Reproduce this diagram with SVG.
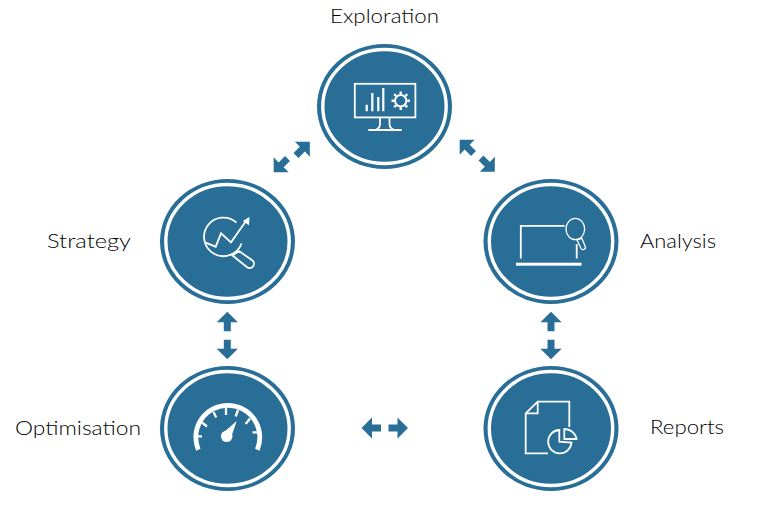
<svg xmlns="http://www.w3.org/2000/svg" width="770" height="525" viewBox="0 0 770 525">
<style>
.disc{fill:#296e97}
.ring{fill:none;stroke:#fff;stroke-width:3.4}
.ln{fill:none;stroke:#fff;stroke-width:1.8;stroke-linejoin:miter}
.th{fill:none;stroke:#fff;stroke-width:1.3}
.wf{fill:#fff}
.arr{fill:#296e97}
.lbl{font-family:"Lato","Inter","Liberation Sans",sans-serif;font-size:20.5px;font-weight:300;fill:#000}
</style>
<defs>
<g id="badge"><ellipse class="disc" rx="67.5" ry="62.5"/><ellipse class="ring" rx="61.7" ry="57"/></g>
<path id="ar" class="arr" d="M0,-3.5H9V-10.6L19.5,0L9,10.6V3.5H0Z"/>
</defs>
<g id="connectors">
<use href="#ar" transform="translate(296,155.5) rotate(-45)"/>
<use href="#ar" transform="translate(287.5,158.5) rotate(135)"/>
<use href="#ar" transform="translate(473.5,153.5) rotate(-135)"/>
<use href="#ar" transform="translate(481,158) rotate(45)"/>
<use href="#ar" transform="translate(227.3,331.2) rotate(-90)"/>
<use href="#ar" transform="translate(227.3,339.8) rotate(90)"/>
<use href="#ar" transform="translate(551,331.2) rotate(-90)"/>
<use href="#ar" transform="translate(551,339.8) rotate(90)"/>
<use href="#ar" transform="translate(381,428) rotate(180)"/>
<use href="#ar" transform="translate(388.5,428)"/>
</g>
<g id="node-exploration">
<use href="#badge" transform="translate(384.5,106.5)"/>
<rect class="ln" x="354.8" y="83.8" width="60.6" height="33.6"/>
<path class="ln" d="M380,118V124Q380,128 376,129.5M389.5,118V124Q389.5,128 393.5,129.5M368.3,130H401.7"/>
<path class="wf" d="M365.6,104.7h2.2v6.6h-2.2zM371.2,93h2.2v18.3h-2.2zM377.2,97h2.2v14.3h-2.2zM382.2,88h2.2v23.3h-2.2z"/>
<circle class="ln" cx="400.7" cy="100.7" r="5.7" style="stroke-width:2"/>
<path class="ln" style="stroke-width:2.4" d="M400.7,91.5v2.6M400.7,107.3v2.6M391.5,100.7h2.6M407.3,100.7h2.6M394.2,94.2l1.8,1.8M405.4,105.4l1.8,1.8M407.2,94.2l-1.8,1.8M396,105.4l-1.8,1.8"/>
<text class="lbl" x="330" y="23" textLength="109" lengthAdjust="spacingAndGlyphs">Exploration</text>
</g>
<g id="node-strategy">
<use href="#badge" transform="translate(227.5,241.5)"/>
<path class="ln" d="M236.5,222.7A19.3,19.3 0 1 0 241.5,243.5"/>
<path class="ln" d="M205,242.3L215.7,246.7L221,233.3L231,242.3L246.7,220"/>
<path class="wf" d="M249.5,217L249,225.3L242.8,221Z"/>
<path class="ln" d="M232.5,255.5L239,251L252.5,260.5A4,4 0 0 1 246.8,267Z"/>
<text class="lbl" x="47" y="248" textLength="84" lengthAdjust="spacingAndGlyphs">Strategy</text>
</g>
<g id="node-analysis">
<use href="#badge" transform="translate(551,241.5)"/>
<path class="ln" d="M520.8,258.5V225.8H564.5M576.7,244V258.5"/>
<rect class="wf" x="516" y="262.7" width="65.5" height="3"/>
<ellipse class="th" cx="575.3" cy="229" rx="9.3" ry="10.7"/>
<path class="th" d="M577,240L582,238.5L585,246A2.2,2.2 0 0 1 581,248.5Z"/>
<text class="lbl" x="640" y="248" textLength="76" lengthAdjust="spacingAndGlyphs">Analysis</text>
</g>
<g id="node-optimisation">
<use href="#badge" transform="translate(227.5,428.5)"/>
<path fill="none" stroke="#fff" stroke-width="4.8" d="M198.3,449.7A32,32 0 1 1 257.3,449.7"/>
<path fill="none" stroke="#fff" stroke-width="2.3" d="M197,436.3H202M202,422.5L207,426.5M213.5,412L216.2,417.5M226,408V415M238,410L235.7,416.5M250,418.5L245.7,424M258.3,432.3H252.5"/>
<circle class="wf" cx="226.7" cy="436.3" r="5.8"/>
<path class="wf" d="M223.5,432.5L236.7,421L231.2,437Z"/>
<text class="lbl" x="15" y="435" textLength="126" lengthAdjust="spacingAndGlyphs">Optimisation</text>
</g>
<g id="node-reports">
<use href="#badge" transform="translate(551,428.5)"/>
<path class="ln" d="M569.3,427V401.7H537.7L525.7,413.3V453.3H548M537.7,401.7V413.3H525.7"/>
<path class="ln" d="M559.3,430A11.7,11.7 0 1 0 571.5,442.5L559.3,441.7Z"/>
<path class="ln" d="M564.3,429V439H576.5A12,12 0 0 0 564.3,429Z"/>
<text class="lbl" x="650" y="434" textLength="74" lengthAdjust="spacingAndGlyphs">Reports</text>
</g>
</svg>
